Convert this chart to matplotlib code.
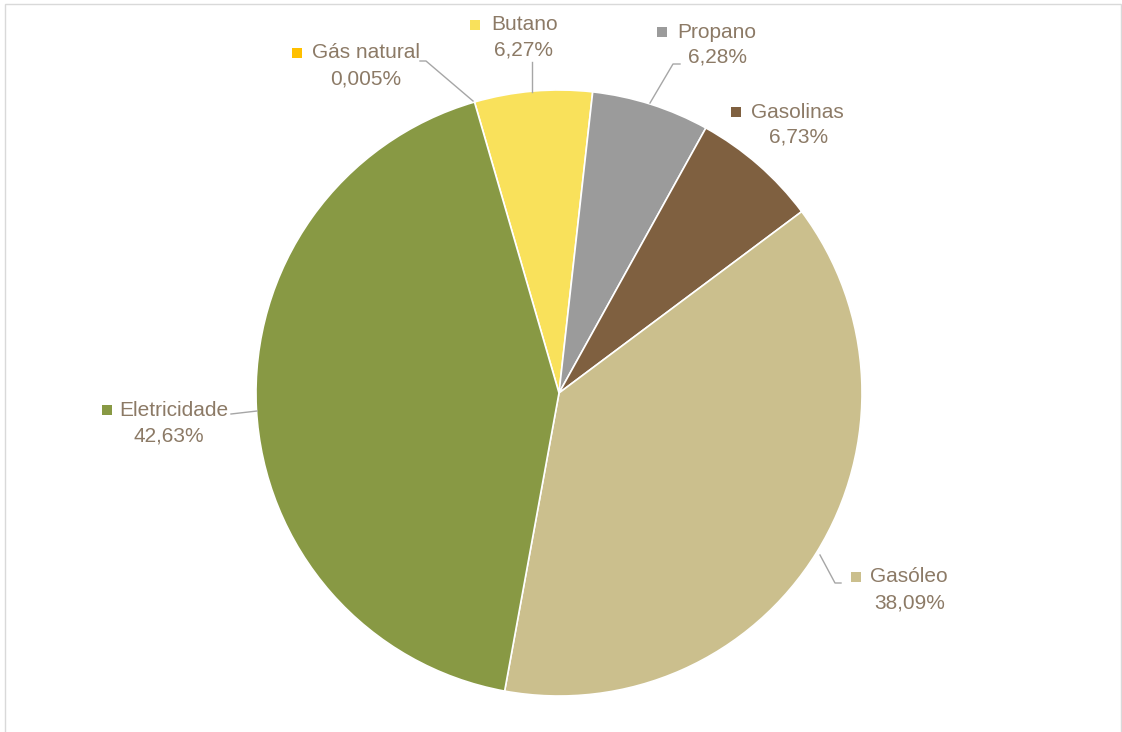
import matplotlib.pyplot as plt
from matplotlib.patches import Rectangle

# data
labels = ["Gás natural", "Butano", "Propano", "Gasolinas", "Gasóleo", "Eletricidade"]
values = [0.005, 6.27, 6.28, 6.73, 38.09, 42.63]
pct_text = ["0,005%", "6,27%", "6,28%", "6,73%", "38,09%", "42,63%"]
colors = ["#FFC000", "#F9E15B", "#9B9B9B", "#7F6040", "#CBBF8D", "#889944"]

W, H = 1122, 732
TXT = "#8C7A66"
LINE = "#A6A6A6"


def Y(py):
    # picture rows run downward
    return H - py


plt.rcParams['font.family'] = ['Liberation Sans', 'DejaVu Sans']

fig = plt.figure(figsize=(W / 100, H / 100), dpi=100)
ax = fig.add_axes([0, 0, 1, 1])

ax.pie(values, colors=colors, center=(559, Y(393)), radius=303,
       startangle=106.2, counterclock=False,
       wedgeprops=dict(edgecolor="white", linewidth=1.2))

# label layout: square centre x, text left x, line1 y, line2 centre x, line2 y
layout = [
    (297, 312, 53, 366, 79),
    (475, 491, 25, 524, 50),
    (662, 677, 32, 718, 57),
    (736, 751, 112, 799, 137),
    (856, 870, 577, 910, 603),
    (107, 119, 410, 169, 436),
]
fs = 15
for name, pct, col, (sx, tx, y1, cx, y2) in zip(labels, pct_text, colors, layout):
    ax.add_patch(Rectangle((sx - 5, Y(y1) - 5), 10, 10, facecolor=col,
                           edgecolor="none"))
    ax.text(tx, Y(y1), name, fontsize=fs, color=TXT, ha="left", va="center")
    ax.text(cx, Y(y2), pct, fontsize=fs, color=TXT, ha="center", va="center")

# leader lines
leaders = [
    [(420, 61), (426, 61), (473, 101)],
    [(532, 62), (532, 92)],
    [(680, 64), (673, 64), (650, 103)],
    [(231, 414), (257, 411)],
    [(820, 555), (835, 583), (841, 583)],
]
for pts in leaders:
    ax.plot([p[0] for p in pts], [Y(p[1]) for p in pts], color=LINE, lw=1)

# chart border
ax.add_patch(Rectangle((5, Y(740)), 1116.5, 736.5, fill=False,
                       edgecolor="#D9D9D9", lw=1, clip_on=False))

ax.set_xlim(0, W)
ax.set_ylim(0, H)
ax.set_aspect("equal")
ax.axis("off")

fig.savefig("out.png", dpi=100, facecolor="white")
